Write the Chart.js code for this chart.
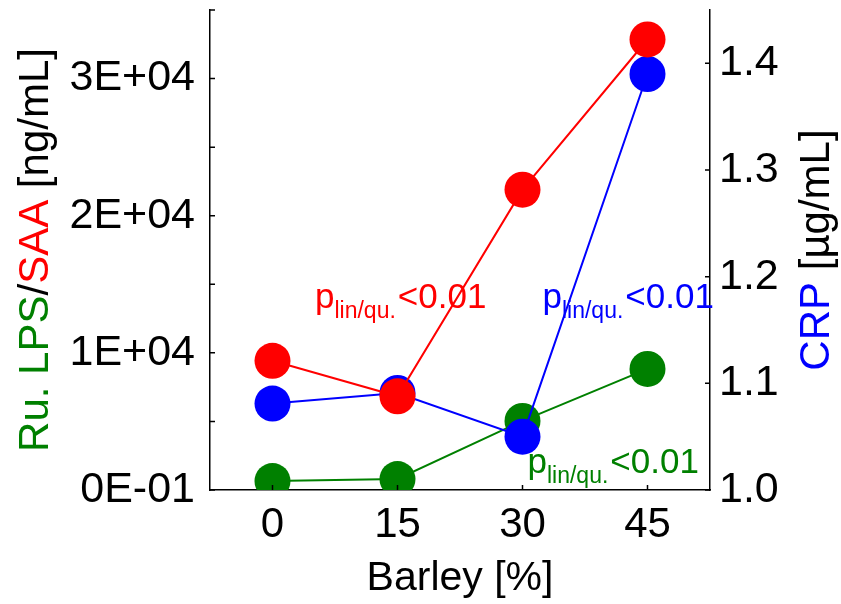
<!DOCTYPE html>
<html>
<head>
<meta charset="utf-8">
<script src="https://cdn.jsdelivr.net/npm/chart.js@4.4.1/dist/chart.umd.min.js"></script>
<style>
  html, body { margin: 0; padding: 0; background: #fff; }
  #wrap { width: 841px; height: 604px; position: relative; }
</style>
</head>
<body>
<div id="wrap"><canvas id="barleyChart"></canvas></div>
<script>
  const FONT = '"Liberation Sans", Arial, sans-serif';

  // data
  const categories = ['0', '15', '30', '45'];
  const lpsValues = [650, 800, 5040, 8830];        // Ru. LPS, left axis
  const saaValues = [9420, 6830, 21900, 32850];    // SAA, left axis
  const crpValues = [1.081, 1.091, 1.050, 1.390];  // CRP, right axis

  const leftTickValues = [0, 10000, 20000, 30000];
  const leftTickLabels = ['0E-01', '1E+04', '2E+04', '3E+04'];
  const rightTickValues = [1.0, 1.1, 1.2, 1.3, 1.4];
  const rightTickLabels = ['1.0', '1.1', '1.2', '1.3', '1.4'];

  const GREEN = '#008000';
  const RED = '#ff0000';
  const BLUE = '#0000ff';

  // p-value notes: [category position, left-axis value of baseline, colour]
  const pNotes = [
    { x: 0.34, y: 13280, color: RED },
    { x: 2.16, y: 13280, color: BLUE },
    { x: 2.04, y: 1240, color: GREEN }
  ];

  function labelFor(values, labels, v) {
    for (let i = 0; i < values.length; i++) {
      if (Math.abs(values[i] - v) < 1e-6 * Math.max(1, Math.abs(v))) return labels[i];
    }
    return '';
  }

  // no extra room for half labels at the axis ends
  function noEdgePadding(scale) {
    scale.paddingTop = 0;
    scale.paddingBottom = 0;
    scale.paddingLeft = 0;
    scale.paddingRight = 0;
  }

  // inward tick marks, multi-colour axis titles and p-value notes
  const extras = {
    id: 'extras',
    beforeDatasetsDraw(chart) {
      const ctx = chart.ctx;
      const { x, y } = chart.scales;
      ctx.save();
      pNotes.forEach(function (n) {
        const px = x.getPixelForValue(n.x);
        const py = y.getPixelForValue(n.y);
        ctx.fillStyle = n.color;
        ctx.textBaseline = 'alphabetic';
        ctx.textAlign = 'left';
        ctx.font = '35px ' + FONT;
        ctx.fillText('p', px, py);
        let w = ctx.measureText('p').width;
        ctx.font = '23px ' + FONT;
        ctx.fillText('lin/qu.', px + w, py + 10);
        w += ctx.measureText('lin/qu.').width;
        ctx.font = '35px ' + FONT;
        ctx.fillText('<0.01', px + w + 2, py);
      });
      ctx.restore();
    },
    afterDraw(chart) {
      const ctx = chart.ctx;
      const area = chart.chartArea;
      const { x, y, y1 } = chart.scales;
      const len = 5;
      ctx.save();
      ctx.strokeStyle = '#000';
      ctx.lineWidth = 1.5;
      ctx.beginPath();
      y.ticks.forEach(function (t) {
        const py = y.getPixelForValue(t.value);
        ctx.moveTo(area.left, py);
        ctx.lineTo(area.left + len, py);
      });
      y1.ticks.forEach(function (t) {
        const py = y1.getPixelForValue(t.value);
        ctx.moveTo(area.right, py);
        ctx.lineTo(area.right - len, py);
      });
      x.ticks.forEach(function (t, i) {
        const px = x.getPixelForTick(i);
        ctx.moveTo(px, area.bottom);
        ctx.lineTo(px, area.bottom - len);
      });
      ctx.stroke();

      // axis titles
      ctx.font = '42px ' + FONT;
      ctx.textBaseline = 'middle';
      ctx.textAlign = 'left';
      const midY = (area.top + area.bottom) / 2;
      function drawParts(parts, cx) {
        let total = 0;
        parts.forEach(function (p) { total += ctx.measureText(p[0]).width; });
        ctx.save();
        ctx.translate(cx, midY);
        ctx.rotate(-Math.PI / 2);
        let pos = -total / 2;
        parts.forEach(function (p) {
          ctx.fillStyle = p[1];
          ctx.fillText(p[0], pos, 0);
          pos += ctx.measureText(p[0]).width;
        });
        ctx.restore();
      }
      drawParts([['Ru. LPS', GREEN], ['/', '#000'], ['SAA', RED], [' [ng/mL]', '#000']], 36);
      drawParts([['CRP', BLUE], [' [\u00b5g/mL]', '#000']], 817);
      ctx.restore();
    }
  };

  const ctx = document.getElementById('barleyChart').getContext('2d');
  new Chart(ctx, {
    type: 'line',
    data: {
      labels: categories,
      datasets: [
        { label: 'SAA', data: saaValues, yAxisID: 'y', borderColor: RED, backgroundColor: RED },
        { label: 'CRP', data: crpValues, yAxisID: 'y1', borderColor: BLUE, backgroundColor: BLUE },
        { label: 'Ru. LPS', data: lpsValues, yAxisID: 'y', borderColor: GREEN, backgroundColor: GREEN }
      ].map(function (d) {
        return Object.assign(d, {
          borderWidth: 2,
          pointRadius: 18,
          pointHoverRadius: 18,
          pointBorderWidth: 0,
          pointBackgroundColor: d.borderColor,
          tension: 0,
          fill: false,
          clip: 0
        });
      })
    },
    options: {
      responsive: true,
      maintainAspectRatio: false,
      animation: false,
      events: [],
      layout: { autoPadding: false, padding: { top: 10, left: 0, right: 0, bottom: 0 } },
      plugins: {
        legend: { display: false },
        tooltip: { enabled: false }
      },
      scales: {
        x: {
          type: 'category',
          offset: true,
          grid: { display: false, drawTicks: false },
          border: { display: true, color: '#000', width: 1.5 },
          ticks: { color: '#000', font: { family: FONT, size: 42 }, padding: 10, maxRotation: 0 },
          title: { display: true, text: 'Barley [%]', color: '#000', font: { family: FONT, size: 41 }, padding: { top: 0, bottom: 1 } },
          afterFit(scale) { scale.height = 114; noEdgePadding(scale); }
        },
        y: {
          position: 'left',
          min: 0,
          max: 35000,
          grid: { display: false, drawTicks: false },
          border: { display: true, color: '#000', width: 1.5 },
          ticks: {
            stepSize: 5000,
            color: '#000',
            font: { family: FONT, size: 43 },
            padding: 15,
            callback: function (v) { return labelFor(leftTickValues, leftTickLabels, v); }
          },
          afterFit(scale) { scale.width = 210; noEdgePadding(scale); }
        },
        y1: {
          position: 'right',
          min: 1.0,
          max: 1.45,
          grid: { display: false, drawTicks: false },
          border: { display: true, color: '#000', width: 1.5 },
          ticks: {
            stepSize: 0.05,
            color: '#000',
            font: { family: FONT, size: 43 },
            padding: 9,
            callback: function (v) { return labelFor(rightTickValues, rightTickLabels, v); }
          },
          afterFit(scale) { scale.width = 131; noEdgePadding(scale); }
        }
      }
    },
    plugins: [extras]
  });
</script>
</body>
</html>
